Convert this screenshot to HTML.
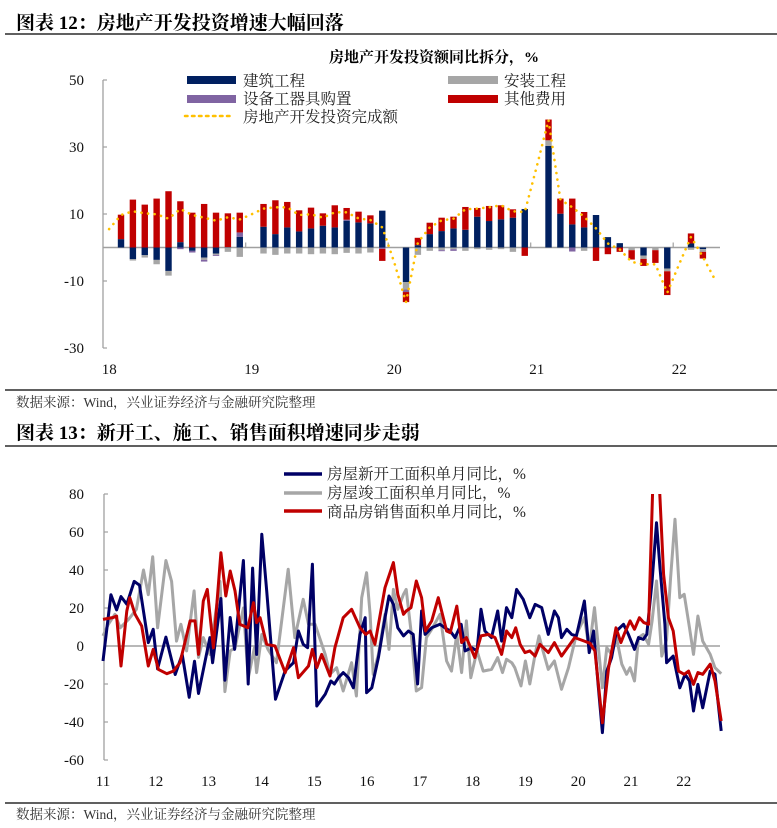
<!DOCTYPE html>
<html><head><meta charset="utf-8">
<style>
html,body{margin:0;padding:0;background:#fff;}
svg{display:block;}
text{font-family:"Liberation Serif","Noto Serif CJK SC",serif;}
</style></head>
<body>
<svg id="root" width="777" height="828" viewBox="0 0 777 828" xmlns="http://www.w3.org/2000/svg">
<text x="16" y="29" font-size="19" font-weight="bold" fill="#000">图表 12：房地产开发投资增速大幅回落</text>
<line x1="5" y1="34" x2="777" y2="34" stroke="#000" stroke-width="1.3"/>
<text x="434" y="62" font-size="15" font-weight="bold" text-anchor="middle">房地产开发投资额同比拆分，%</text>
<g id="legend1" font-size="15.5" fill="#222">
 <g><rect x="187" y="76" width="49" height="8" fill="#002060"/><text x="243" y="86">建筑工程</text></g>
 <g><rect x="448" y="76" width="50" height="8" fill="#a6a6a6"/><text x="504" y="86">安装工程</text></g>
 <g><rect x="187" y="95" width="49" height="8" fill="#8064a2"/><text x="243" y="104">设备工器具购置</text></g>
 <g><rect x="448" y="95" width="50" height="8" fill="#c00000"/><text x="504" y="104">其他费用</text></g>
 <g><line x1="185" y1="116" x2="232" y2="116" stroke="#ffc000" stroke-width="2.5" stroke-dasharray="2.5 4.5" stroke-linecap="round"/><text x="243" y="122">房地产开发投资完成额</text></g>
</g>
<g id="chart1"></g>
<line x1="5" y1="390" x2="777" y2="390" stroke="#000" stroke-width="1.3"/>
<text x="16" y="407" font-size="13.5" fill="#333">数据来源：Wind，兴业证券经济与金融研究院整理</text>
<text x="16" y="439" font-size="19" font-weight="bold" fill="#000">图表 13：新开工、施工、销售面积增速同步走弱</text>
<line x1="5" y1="446" x2="777" y2="446" stroke="#000" stroke-width="1.3"/>
<g id="legend2" font-size="15.5" fill="#222">
 <g><line x1="284" y1="474" x2="322" y2="474" stroke="#000066" stroke-width="3.5"/><text x="327" y="479">房屋新开工面积单月同比，%</text></g>
 <g><line x1="284" y1="493" x2="322" y2="493" stroke="#a6a6a6" stroke-width="3.5"/><text x="327" y="498">房屋竣工面积单月同比，%</text></g>
 <g><line x1="284" y1="511" x2="322" y2="511" stroke="#c00000" stroke-width="3.5"/><text x="327" y="517">商品房销售面积单月同比，%</text></g>
</g>
<g id="chart2"></g>
<line x1="5" y1="803" x2="777" y2="803" stroke="#000" stroke-width="1.3"/>
<text x="16" y="819" font-size="13.5" fill="#333">数据来源：Wind，兴业证券经济与金融研究院整理</text>
</svg>
<script>
// ---- Chart 12 data (month index from Jan 2018) ----
const barMonths = [1,2,3,4,5,6,7,8,9,10,11,13,14,15,16,17,18,19,20,21,22,23,25,26,27,28,29,30,31,32,33,34,35,37,38,39,40,41,42,43,44,45,46,47,49,50];
const construction = [2.5,-3.5,-2.3,-3.7,-7,1.6,-1,-3,-1.8,0.1,3.2,6.2,4,6,4.8,5.7,6.5,6,8,7.5,7.2,11,-10.3,0.7,4,4.9,5.7,5.3,9.2,7.9,8.4,8.9,11.5,30.3,10.1,6.9,6,9.7,3.1,1.3,0,-2.4,0,-6.3,1.2,-0.5];
const installation = [0,-0.4,-0.7,-1.3,-1.4,0,0,-0.7,-0.4,-1.3,-2.8,-1.8,-2.2,-1.8,-1.8,-2,-1.8,-2,-1.6,-1.8,-1.5,0,-2.2,-2.2,-1,-0.8,-0.5,-1,-0.5,-0.7,-0.5,-1.3,0,1.7,0,0,-1,0,0,0,-0.8,-1,-0.8,-0.8,-0.7,-0.8];
const equipment = [0,0,0,0,0,-0.5,-0.5,-0.5,-0.3,0,1.3,0,0,0,0,0,0,0,0.3,0,0,-0.4,-0.8,0,0,-0.3,-0.5,0,0,0,0,0,0,0,0,-1.2,0,0,0,0,0,0,0,0,0,0];
const otherCosts = [7.3,14.3,12.8,14.6,16.8,12.2,10.4,13,10.4,10.1,5.9,6.8,10.1,7.6,6.3,6.2,3.7,6.6,3.5,3.2,2.4,-3.6,-3,2.2,3.4,4,3.5,6.8,2.6,4.5,4.2,2.5,-2.5,6.2,4.5,7.7,4.6,-4,-2,-1.3,-2.8,-2.1,-3.8,-7.1,3,-2];
const totalInvest = [5.5,9.7,10.8,10.2,9.9,8.6,11.5,9.7,8.9,8.0,9.0,8.4,9.9,11.6,12,12,9.7,9.9,8.9,10.5,10.5,8.7,8.2,6,-4.3,-16.3,1.5,6,8.1,8.6,11.4,11.6,12,12.6,10.8,10.6,24,38,14.3,12,9.2,5.7,1.2,-0.6,-4.3,-5,-5,-13.5,-5,3.2,-2.8,-9.5];
const yTicks1 = [50,30,10,-10,-30];
const yearLabels1 = ["18","19","20","21","22"];

// ---- Chart 13 data (month index from Jan 2011) ----
const startsM = [0,1.8,3.1,4.1,5.4,7.1,8.3,10.3,11.4,12.4,14.3,16.4,18,19.6,20.8,21.7,24.3,24.9,26.8,27.7,28.9,29.9,31.9,33,34,34.9,36.1,37.2,39.2,41.4,43.3,44.4,45.5,46.5,47.6,48.6,50.5,51.8,52.6,53.5,54.6,55.8,56.9,58.4,59.6,59.9,61.1,62.6,64.1,65,66,67,68.3,69.4,70.5,71.5,72.4,73.2,74.7,76.6,77.7,78.9,80,81.4,82.3,83.8,85,85.9,86.8,88.3,89.7,90.6,91.7,92.9,94,95.5,97,98.2,99.7,101.2,102.6,103.5,104.2,105.4,106.5,107.6,109.4,110.5,111.5,112.6,113.5,114.5,115.6,116.7,118.3,119.4,120.8,121.7,122.8,123.6,124.8,125.8,126.6,127.7,128.1,129.6,131.1,132.3,133.3,134.2,135.2,136.3,138,139.1,140.5];
const startsV = [-7.9,27,19,26,22,34,32,1.8,8.8,-12,4.7,-15,-4.4,-27,-8,-25,4.4,-8.8,25,-18,15,-1.8,45,-20,41,-4.4,58.8,29,-28,-13,-8.8,7.9,0.9,-0.9,43,-31.6,-25.4,-18.4,-20,-16.7,-14,-16.7,-22,6.1,14.9,-24.6,-22,-6.1,14.9,26.3,22,9.6,5.3,7.9,6.1,-20,18.4,6.1,9.6,11.4,9.6,7.9,4.4,11.4,-2.6,-0.9,-2.6,19.3,7.9,4.4,18.4,2.6,20.2,14.9,29.8,24.6,14.9,21.9,20.2,6.1,18.4,14.9,4.4,8.8,6.1,5.3,23.7,-3.5,7.9,-22,-45.6,-13.2,-6.1,7.9,11.4,6.1,-1.8,4.4,3.5,6.1,34.2,64.9,41.2,11.4,-8.8,-5.3,-22,-14.9,-18.4,-34.2,-20.2,-32.5,-13.2,-14.9,-44.7];
const complM = [0,1.2,2.7,3.9,5.8,7.6,9.2,10.3,11.3,12.4,14.3,15.6,16.7,17.7,19,20.7,21.7,22.8,24.3,26.6,27.7,28.9,30,31.9,33,34.4,34.9,36.1,37.5,39.4,42.1,43.6,45.5,46.7,48.2,50.5,51.6,53.1,54.6,56.5,57.6,58.8,59.9,60.7,61.4,62.6,64.1,65,66,67,68.3,68.9,70,71.2,72.4,73.5,74.7,76.6,78.1,79.2,80.4,81.5,82.6,83.6,85,86.4,88.3,89.7,90.8,91.7,92.9,93.6,95,96,97,98.2,99.1,100,101.2,102.6,104.2,105.8,107.6,109.4,110.5,111.7,112.6,113.5,114.5,115.6,116.7,117.9,119,119.8,120.8,121.7,122.8,124,124.8,125.8,127,128.1,129,130,131.1,132.1,133.3,134.2,135.2,136.3,138,139.1,140.5];
const complV = [5.3,11.4,16.7,9.6,14,19.3,40,27,47,9.6,45,34,2.6,11.4,-2.6,29,-6,4.4,-4.4,34,-24,-2.6,-1,20,-17,-1,-14,6.1,-1.8,-8.8,40.4,4.4,24.6,11.4,11.4,-4.4,-14.9,-11.4,-23.7,-8.8,-26.3,25.4,38.6,16.7,-14.9,-4.4,16.7,-1.8,29.8,19.3,27.2,29.8,7.9,-23.7,-21.9,4.4,8.8,16.7,-7.9,-13.2,6.1,-14,13.2,-16.7,-2.6,-13.2,-12.3,-6.1,-14,-7,-8.8,-11.4,-21,-7.9,-20,-4.4,5.3,-2.6,-12.3,-7.9,-22.8,-11.4,6.1,14.9,-1.8,20.2,-0.9,-22,-0.9,-4.4,4.4,-9.6,-14.9,-11.4,-18.4,4.4,6.1,0.9,13.2,34.2,-5.3,3.5,36,66.7,25.4,27.2,9.6,-4.4,15.8,2.6,-4.4,-11.4,-14.6];
const salesM = [0,2.3,3.1,4.1,5.4,6.1,7.3,8.8,10.3,11.4,12.6,14.5,16,17.5,19.8,20.9,21.7,22.8,23.7,25.1,26.8,27.9,28.9,30,31.1,32.9,34.2,34.9,35.7,37.2,39.1,41.4,43.3,44.4,46.7,47.6,48.6,49.7,51.6,52.7,54.6,56.5,58.4,59.7,60.7,61.8,64.1,66,67,68.3,68.9,70,71.2,72.4,73.3,74.7,76.2,78.1,78.9,80.4,81.5,82.6,84.5,85.9,87.6,89.1,90.6,91.7,92.9,93.8,94.8,95.9,97,98.2,99.3,101.2,102.6,104.2,107.2,109.4,110.7,111.8,113.5,114.9,116.6,117.7,118.6,119.8,120.8,121.9,122.9,124,125.1,126.3,127.4,128.5,129.6,130.8,132.1,133.1,134.2,135.2,136.3,138,139.1,140.5];
const salesV = [14,15,15.8,-10.5,18.4,25.4,16.7,10.5,-10.5,-1.8,-12.3,-14.6,-13.2,-8.8,13.2,13.2,-4.4,23.7,29.8,-0.9,49.1,26.3,39.5,29,11.4,9.6,22.8,12.3,14.9,0.9,0,-14,-0.9,-16.7,-10.5,-1.8,-11.4,-4.4,-15.8,-0.9,14.9,19.3,9.6,6.1,7.9,0.9,30.7,43.9,27.2,16.7,18.4,20.2,34.2,25.4,7.9,13.2,25.4,7.9,7,21,1.8,4.4,-6.1,5.3,6.1,4.4,-4.4,7.9,4.4,9.6,0.9,-3.5,-2.6,-5.3,0.9,-3.5,1.8,-5.3,4.4,2.6,1.4,-2.6,-40.4,-11.4,9.6,1.8,7,13.2,8.8,14.9,12.3,11.4,95,92,37.7,14.9,7.9,-13.2,-14.9,-13.2,-20.2,-14,-14.9,-9.6,-18.4,-39.5];
const yTicks2 = [80,60,40,20,0,-20,-40,-60];
const yearLabels2 = ["11","12","13","14","15","16","17","18","19","20","21","22"];

const NS = "http://www.w3.org/2000/svg";
function mk(tag, attrs, parent){
  const e = document.createElementNS(NS, tag);
  for (const k in attrs) e.setAttribute(k, attrs[k]);
  parent.appendChild(e);
  return e;
}

// ---------- Chart 12 ----------
(function(){
  const g = document.getElementById('chart1');
  const y = v => 247.5 - v * 3.35;
  const x = m => 103.2 + 11.875 * (m + 0.5);
  const axis = mk('line', {x1:103, y1:80, x2:103, y2:348, stroke:'#a0a0a0', 'stroke-width':1.3}, g);
  
  
  yTicks1.forEach(t => {
    const tk = mk('line', {x1:103, y1:y(t), x2:107, y2:y(t), stroke:'#a0a0a0', 'stroke-width':1.2}, g);
    
    
    const lb = mk('text', {x:84, y:y(t)+5, 'font-size':15, 'text-anchor':'end', fill:'#111'}, g);
    lb.textContent = t;
    
    
  });
  const zl = mk('line', {x1:103, y1:y(0), x2:720, y2:y(0), stroke:'#a0a0a0', 'stroke-width':1.6}, g);
  
  
  yearLabels1.forEach((lab, i) => {
    const tx = 103.2 + 142.5 * i;
    if (i > 0) {
      const tk = mk('line', {x1:tx, y1:y(0), x2:tx, y2:y(0)-5, stroke:'#a0a0a0', 'stroke-width':1.2}, g);
      
      
    }
    const t = mk('text', {x:tx+6, y:374, 'font-size':15, 'text-anchor':'middle', fill:'#111'}, g);
    t.textContent = lab;
    
    
  });
  const series = [[construction,'#002060','construction'],[installation,'#a6a6a6','installation'],[equipment,'#8064a2','equipment'],[otherCosts,'#c00000','other-costs']];
  barMonths.forEach((m, i) => {
    let pos = 0, neg = 0;
    series.forEach(([arr, col, nm]) => {
      const v = arr[i];
      if (v === 0) return;
      let a, b;
      if (v > 0) { a = pos; b = pos + v; pos = b; } else { a = neg; b = neg + v; neg = b; }
      const r = mk('rect', {x:x(m)-3.2, y:Math.min(y(a),y(b)), width:6.4, height:Math.abs(y(a)-y(b)), fill:col}, g);
      
      
    });
  });
  const pts = totalInvest.map((v, m) => x(m).toFixed(1) + ',' + y(v).toFixed(1)).join(' ');
  const pl = mk('polyline', {points:pts, fill:'none', stroke:'#ffc000', 'stroke-width':2.6, 'stroke-dasharray':'0.1 6.5', 'stroke-linecap':'round'}, g);
  
  
})();

// ---------- Chart 13 ----------
(function(){
  const g = document.getElementById('chart2');
  const y = v => 646 - v * 1.9;
  const x = m => 103 + 4.4 * m;
  const cp = mk('clipPath', {id:'clip2'}, g);
  mk('rect', {x:95, y:494, width:680, height:270}, cp);
  const axis = mk('line', {x1:104, y1:494, x2:104, y2:760, stroke:'#a0a0a0', 'stroke-width':1.3}, g);
  
  
  yTicks2.forEach(t => {
    const tk = mk('line', {x1:104, y1:y(t), x2:108, y2:y(t), stroke:'#a0a0a0', 'stroke-width':1.2}, g);
    
    
    const lb = mk('text', {x:84, y:y(t)+5, 'font-size':15, 'text-anchor':'end', fill:'#111'}, g);
    lb.textContent = t;
    
    
  });
  const zl = mk('line', {x1:104, y1:y(0), x2:720, y2:y(0), stroke:'#a0a0a0', 'stroke-width':1.5}, g);
  
  
  yearLabels2.forEach((lab, i) => {
    const t = mk('text', {x:x(12*i), y:786, 'font-size':15, 'text-anchor':'middle', fill:'#111'}, g);
    t.textContent = lab;
    
    
  });
  const lines = [[complM, complV, '#a6a6a6', 'line-completions'], [startsM, startsV, '#000066', 'line-new-starts'], [salesM, salesV, '#c00000', 'line-sales']];
  lines.forEach(([ms, vs, col, nm]) => {
    const pts = ms.map((m, i) => x(m).toFixed(1) + ',' + y(vs[i]).toFixed(1)).join(' ');
    const pl = mk('polyline', {points:pts, fill:'none', stroke:col, 'stroke-width':3, 'stroke-linejoin':'round', 'clip-path':'url(#clip2)'}, g);
    
    
  });
})();
</script>
</body></html>
